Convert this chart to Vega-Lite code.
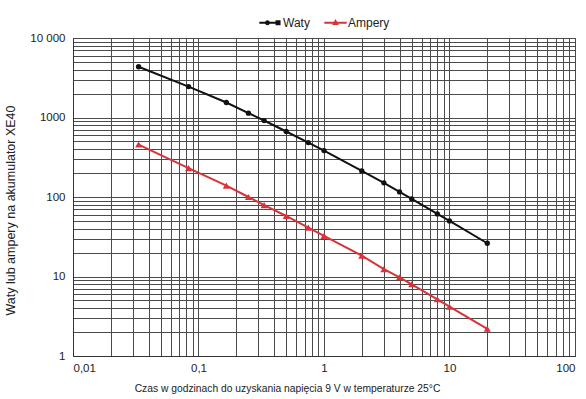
{
  "$schema": "https://vega.github.io/schema/vega-lite/v6.json",
  "autosize": "none",
  "padding": {"left": 73, "top": 38, "right": 11, "bottom": 43},
  "width": 502,
  "height": 318,
  "background": "white",
  "config": {
    "font": "Liberation Sans",
    "view": {"stroke": "#444"},
    "axis": {"labelFont": "Liberation Sans", "titleFont": "Liberation Sans", "labelFontSize": 11.5, "titleFontSize": 11, "labelColor": "#222", "titleColor": "#222", "titleFontWeight": "normal", "gridColor": "#4a4a4a", "gridOpacity": 1, "gridWidth": 1, "domainColor": "#333", "ticks": false, "labelOverlap": false, "labelBound": false}
  },
  "data": {"values": [
    {"t": 0.0333, "v": 4350, "s": "Waty"},
    {"t": 0.0833, "v": 2450, "s": "Waty"},
    {"t": 0.1667, "v": 1545, "s": "Waty"},
    {"t": 0.25, "v": 1135, "s": "Waty"},
    {"t": 0.3333, "v": 916, "s": "Waty"},
    {"t": 0.5, "v": 667, "s": "Waty"},
    {"t": 0.75, "v": 484, "s": "Waty"},
    {"t": 1, "v": 384, "s": "Waty"},
    {"t": 2, "v": 213, "s": "Waty"},
    {"t": 3, "v": 151, "s": "Waty"},
    {"t": 4, "v": 116, "s": "Waty"},
    {"t": 5, "v": 94.6, "s": "Waty"},
    {"t": 8, "v": 61.2, "s": "Waty"},
    {"t": 10, "v": 50, "s": "Waty"},
    {"t": 20, "v": 26.2, "s": "Waty"},
    {"t": 0.0333, "v": 457, "s": "Ampery"},
    {"t": 0.0833, "v": 231, "s": "Ampery"},
    {"t": 0.1667, "v": 139, "s": "Ampery"},
    {"t": 0.25, "v": 100, "s": "Ampery"},
    {"t": 0.3333, "v": 79, "s": "Ampery"},
    {"t": 0.5, "v": 57.7, "s": "Ampery"},
    {"t": 0.75, "v": 41.2, "s": "Ampery"},
    {"t": 1, "v": 32.4, "s": "Ampery"},
    {"t": 2, "v": 18.3, "s": "Ampery"},
    {"t": 3, "v": 12.4, "s": "Ampery"},
    {"t": 4, "v": 9.77, "s": "Ampery"},
    {"t": 5, "v": 7.98, "s": "Ampery"},
    {"t": 8, "v": 5.17, "s": "Ampery"},
    {"t": 10, "v": 4.17, "s": "Ampery"},
    {"t": 20, "v": 2.2, "s": "Ampery"}
  ]},
  "encoding": {
    "x": {"field": "t", "type": "quantitative",
      "scale": {"type": "log", "domain": [0.01, 100], "nice": false},
      "axis": {"title": "Czas w godzinach do uzyskania napięcia 9 V w temperaturze 25°C", "titleFontSize": 10.3, "titlePadding": 10, "labelPadding": 6, "titleX": 214, "titleAlign": "center",
        "values": [0.01,0.02,0.03,0.04,0.05,0.06,0.07,0.08,0.09,0.1,0.2,0.3,0.4,0.5,0.6,0.7,0.8,0.9,1,2,3,4,5,6,7,8,9,10,20,30,40,50,60,70,80,90,100],
        "labelExpr": "datum.value == 0.01 ? '0,01' : datum.value == 0.1 ? '0,1' : datum.value == 1 ? '1' : datum.value == 10 ? '10' : datum.value == 100 ? '100' : ''"}},
    "y": {"field": "v", "type": "quantitative",
      "scale": {"type": "log", "domain": [1, 10000], "nice": false},
      "axis": {"title": "Waty lub ampery na akumulator XE40", "titleFontSize": 12.5, "titlePadding": 12, "labelPadding": 8, "titleY": 172, "titleAlign": "center",
        "values": [1,2,3,4,5,6,7,8,9,10,20,30,40,50,60,70,80,90,100,200,300,400,500,600,700,800,900,1000,2000,3000,4000,5000,6000,7000,8000,9000,10000],
        "labelExpr": "datum.value == 1 ? '1' : datum.value == 10 ? '10' : datum.value == 100 ? '100' : datum.value == 1000 ? '1000' : datum.value == 10000 ? '10 000' : ''"}},
    "color": {"field": "s", "type": "nominal",
      "scale": {"domain": ["Waty", "Ampery"], "range": ["#111111", "#d8323a"]},
      "legend": {"title": null, "orient": "none", "direction": "horizontal", "legendX": 186, "legendY": -27,
        "labelFontSize": 12, "labelFont": "Liberation Sans", "labelColor": "#222", "symbolSize": 500, "columnPadding": 14, "labelOffset": 1,
        "symbolStrokeWidth": 0,
        "encode": {"symbols": {"update": {"shape": {"signal": "datum.value === 'Waty' ? 'M-1,-0.08H0.5V0.08H-1Z M-0.05,0A0.22,0.22 0 1,1 -0.49,0A0.22,0.22 0 1,1 -0.05,0Z M0.45,-0.22H0.9V0.22H0.45Z' : 'M-1,-0.08H1V0.08H-1Z M0,-0.34L0.3,0.2H-0.3Z'"}, "fill": {"signal": "datum.value === 'Waty' ? '#111111' : '#d8323a'"}, "stroke": {"value": "transparent"}, "opacity": {"value": 1}}}}}}
  },
  "layer": [
    {"mark": {"type": "line", "strokeWidth": 2}},
    {"transform": [{"filter": "datum.s === 'Waty'"}],
      "mark": {"type": "point", "filled": true, "opacity": 1, "shape": "circle", "size": 28}},
    {"transform": [{"filter": "datum.s === 'Ampery'"}],
      "mark": {"type": "point", "filled": true, "opacity": 1, "shape": "triangle-up", "size": 50}}
  ]
}
